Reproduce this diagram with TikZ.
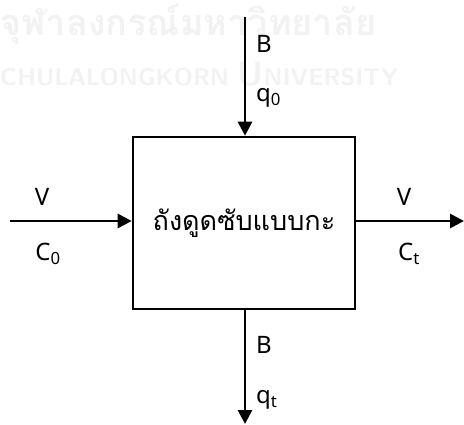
\documentclass[tikz,border=0pt]{standalone}
\usepackage{fontspec}
\setmainfont{Noto Sans}
\newfontfamily\thaifont[Script=Thai]{Loma}
\usetikzlibrary{arrows.meta}
\tikzset{
  flow/.style={line width=2.8pt,-{Triangle[length=14pt,width=14pt]}},
  lbl/.style={font=\fontsize{24}{26}\selectfont,inner sep=0pt},
  tank/.style={draw,line width=2.6pt,minimum width=222pt,minimum height=172pt,inner sep=0pt},
  wm/.style={text=black!5,inner sep=0pt,anchor=west}
}
\begin{document}
\begin{tikzpicture}[x=1pt,y=-1pt]
\useasboundingbox (0,0) rectangle (464,425);
% watermark
\node[wm,font=\thaifont\bfseries\fontsize{36}{38}\selectfont] (wm1) at (0,24) {จุฬาลงกรณ์มหาวิทยาลัย};
\node[wm,font=\sffamily\bfseries\fontsize{24}{26}\selectfont] (wm2) at (0,74) {CHULALONGKORN \fontsize{34}{34}\selectfont U\fontsize{24}{26}\selectfont NIVERSITY};
% tank
\node[tank] (box) at (244,223) {};
\node[font=\thaifont\fontsize{27}{30}\selectfont,inner sep=0pt] (txt) at (box.center) {ถังดูดซับแบบกะ};
% connectors
\coordinate (tin) at (245,17);
\coordinate (lin) at (10,221);
\coordinate (rout) at (464,221);
\coordinate (bout) at (245,424);
\draw[flow] (tin) -- (tin |- box.north);
\draw[flow] (lin) -- (lin -| box.west);
\draw[flow] (lin -| box.east) -- (rout);
\draw[flow] (tin |- box.south) -- (bout);
% labels
\node[lbl,anchor=west] (b1) at (256,44) {B};
\node[lbl,anchor=west] (q0) at (256,98) {q\textsubscript{0}};
\node[lbl] (v1) at (42,197) {V};
\node[lbl] (c0) at (48,254) {C\textsubscript{0}};
\node[lbl] (v2) at (404,197) {V};
\node[lbl] (ct) at (409,254) {C\textsubscript{t}};
\node[lbl,anchor=west] (b2) at (256,345) {B};
\node[lbl,anchor=west] (qt) at (256,400) {q\textsubscript{t}};
\end{tikzpicture}
\end{document}
